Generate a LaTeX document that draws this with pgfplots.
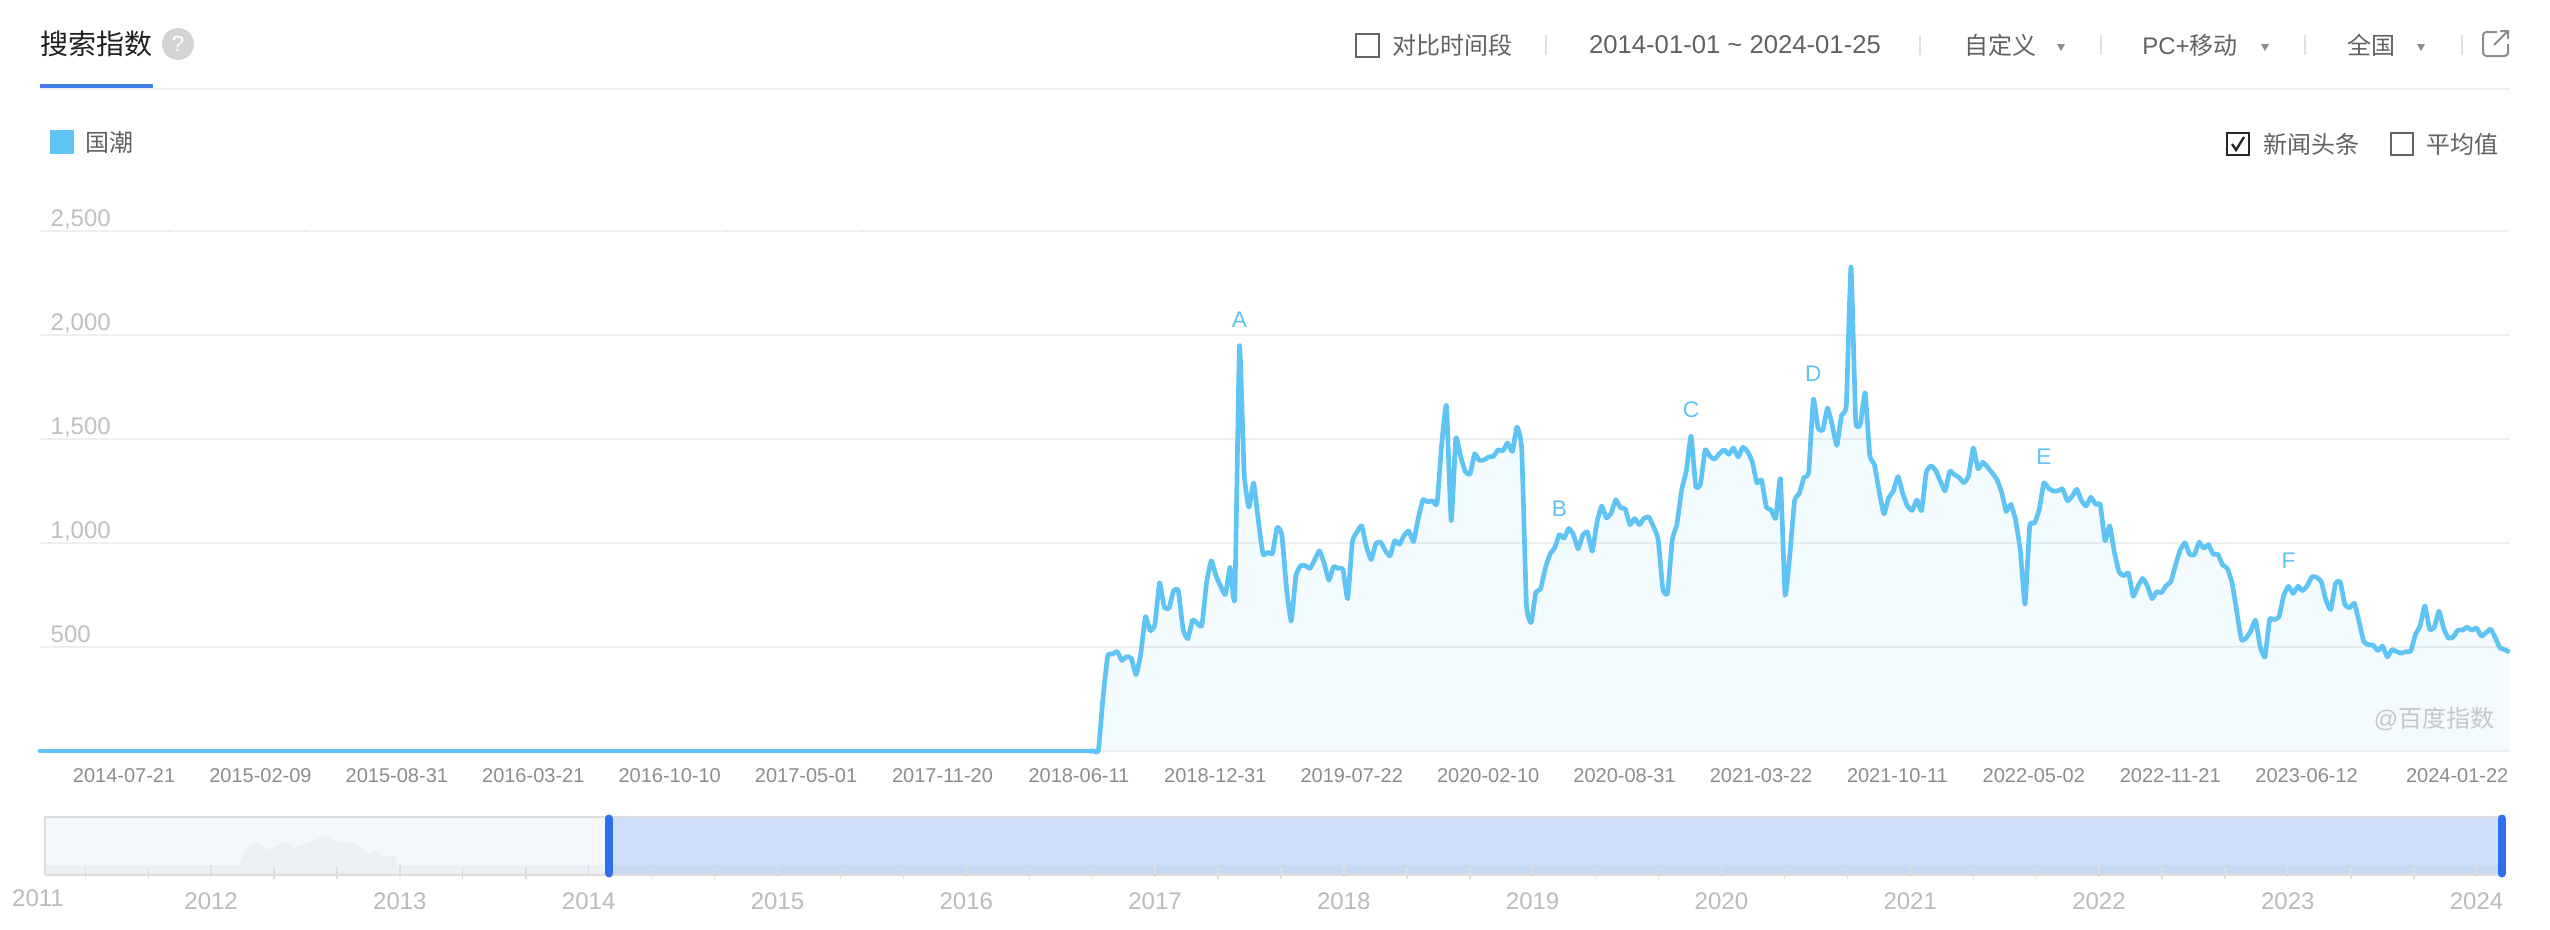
\documentclass[border=0pt]{standalone}
\usepackage{fontspec}
\usepackage{pgfplots}
\usepackage{pgfplotstable}
\pgfplotsset{compat=1.18}
\setmainfont{Liberation Sans}
\newfontfamily\cjk{Noto Sans CJK SC}
\newcommand{\fs}[1]{\fontsize{#1}{#1}\selectfont}

\definecolor{series}{HTML}{5FC4F3}
\definecolor{gridc}{HTML}{EFEFEF}
\definecolor{blueh}{HTML}{2F6FEB}
\definecolor{sel}{HTML}{CDDFFA}
\definecolor{unsel}{HTML}{F4F7FC}
\definecolor{frame}{HTML}{DDDDDD}

% weekly index, x = weeks since 2014-01-01 (flat at zero before week 223)
\pgfplotstableread{
week value
223 0
224 0
225 3
226 260
227 458
228 466
229 478
230 435
231 454
232 446
233 367
234 466
235 646
236 578
237 607
238 809
239 692
240 686
241 771
242 771
243 586
244 540
245 629
246 615
247 603
248 809
249 915
250 843
251 792
252 752
253 883
254 735
255 1949
256 1332
257 1172
258 1289
259 1109
260 946
261 955
262 950
263 1075
264 1040
265 783
266 624
267 843
268 891
269 891
270 878
271 920
272 963
273 903
274 821
275 886
276 878
277 874
278 732
279 1006
280 1054
281 1083
282 980
283 920
284 998
285 1004
286 963
287 938
288 1011
289 994
290 1037
291 1058
292 1006
293 1118
294 1208
295 1198
296 1203
297 1190
298 1477
299 1661
300 1106
301 1503
302 1417
303 1344
304 1332
305 1429
306 1397
307 1400
308 1414
309 1417
310 1448
311 1443
312 1481
313 1440
314 1558
315 1452
316 706
317 617
318 763
319 778
320 878
321 946
322 977
323 1040
324 1023
325 1070
326 1040
327 972
328 1040
329 1052
330 960
331 1100
332 1178
333 1121
334 1143
335 1208
336 1169
337 1164
338 1088
339 1118
340 1088
341 1118
342 1126
343 1080
344 1018
345 778
346 758
347 1015
348 1092
349 1255
350 1349
351 1515
352 1272
353 1284
354 1448
355 1417
356 1404
357 1429
358 1448
359 1426
360 1457
361 1414
362 1460
363 1440
364 1392
365 1289
366 1303
367 1172
368 1160
369 1118
370 1309
371 749
372 946
373 1203
374 1238
375 1315
376 1340
377 1692
378 1551
379 1543
380 1649
381 1567
382 1469
383 1615
384 1663
385 2326
386 1589
387 1572
388 1723
389 1421
390 1375
391 1246
392 1140
393 1217
394 1250
395 1320
396 1238
397 1178
398 1157
399 1207
400 1155
401 1340
402 1371
403 1349
404 1297
405 1250
406 1345
407 1328
408 1315
409 1289
410 1323
411 1457
412 1357
413 1388
414 1366
415 1337
416 1306
417 1246
418 1152
419 1186
420 1109
421 963
422 706
423 1083
424 1095
425 1160
426 1289
427 1263
428 1250
429 1251
430 1260
431 1203
432 1224
433 1258
434 1203
435 1178
436 1220
437 1186
438 1184
439 1011
440 1083
441 955
442 860
443 843
444 855
445 744
446 792
447 830
448 795
449 732
450 766
451 761
452 795
453 814
454 895
455 967
456 1001
457 946
458 943
459 1004
460 975
461 992
462 946
463 946
464 895
465 878
466 809
467 672
468 535
469 543
470 578
471 629
472 500
473 452
474 632
475 632
476 646
477 749
478 792
479 758
480 792
481 771
482 795
483 838
484 835
485 812
486 723
487 680
488 806
489 814
490 703
491 689
492 710
493 624
494 526
495 511
496 509
497 483
498 504
499 452
500 487
501 478
502 470
503 478
504 480
505 560
506 603
507 698
508 586
509 595
510 672
511 590
512 543
513 547
514 581
515 581
516 595
517 581
518 591
519 552
520 569
521 586
522 543
523 495
524 487
525 475
}\indexdata

% overview strip under the chart, x in years, y in strip pixels
\pgfplotstableread{
year h
2011.12 10
2012.15 10
2012.18 25
2012.24 33
2012.30 25
2012.39 33
2012.44 27
2012.52 33
2012.60 39
2012.69 32
2012.76 32
2012.84 20
2012.87 25
2012.91 18
2012.97 20
2012.99 10
2024.14 10
}\overview

\begin{document}
\begin{tikzpicture}[x=0.3pt,y=-0.3pt]
\useasboundingbox (0,0) rectangle (2550,930);

% main chart
\begin{axis}[
	at={(12pt,-225.3pt)},
	anchor=south west,
	scale only axis,
	width=741pt,
	height=156pt,
	xmin=0, xmax=525.1,
	ymin=0, ymax=2500,
	clip=false,
	axis line style={draw=none},
	ytick={0,500,1000,1500,2000,2500},
	yticklabels={,500,{1,000},{1,500},{2,000},{2,500}},
	ymajorgrids=true,
	grid style={gridc,line width=0.6pt},
	ytick style={draw=none},
	xtick={28.71,57.71,86.71,115.71,144.71,173.71,202.71,231.71,260.71,289.71,318.71,347.71,376.71,405.71,434.71,463.71,492.71,524.71},
	xticklabels={2014-07-21,2015-02-09,2015-08-31,2016-03-21,2016-10-10,2017-05-01,2017-11-20,2018-06-11,2018-12-31,2019-07-22,2020-02-10,2020-08-31,2021-03-22,2021-10-11,2022-05-02,2022-11-21,2023-06-12,2024-01-22},
	xtick style={white,line width=0.6pt},
	tick align=inside,
	major tick length=1pt,
	/pgf/number format/assume math mode=true,
	xticklabel style={font=\fs{6}, text=black!45, xshift=-15.3pt, yshift=-1.8pt},
	yticklabel style={font=\fs{7.2}, text=black!25, anchor=base west, inner sep=0pt, xshift=3pt, yshift=1.4pt},
	]
	\addplot[draw=none, fill=series, fill opacity=0.075, smooth, tension=0.25, forget plot] table[x=week,y=value] {\indexdata} \closedcycle;
	\addplot[series, line width=1.4pt, line cap=round, forget plot] coordinates {(0,0)(224,0)};
	\addplot[series, line width=1.4pt, line join=round, smooth, tension=0.25] table[x=week,y=value] {\indexdata};

	\node[text=series, font=\fs{6.8}] at (axis cs:255,2074) {A};
	\node[text=series, font=\fs{6.8}] at (axis cs:323,1165) {B};
	\node[text=series, font=\fs{6.8}] at (axis cs:351,1642) {C};
	\node[text=series, font=\fs{6.8}] at (axis cs:377,1813) {D};
	\node[text=series, font=\fs{6.8}] at (axis cs:426,1414) {E};
	\node[text=series, font=\fs{6.8}] at (axis cs:478,917) {F};
\end{axis}

% overview strip
\begin{axis}[
	at={(13.5pt,-262.5pt)},
	anchor=south west,
	scale only axis,
	width=737.7pt,
	height=17.4pt,
	xmin=2011.12, xmax=2024.144,
	ymin=0, ymax=58,
	axis on top,
	x axis line style={frame,line width=0.8pt},
	y axis line style={draw=none},
	ytick=\empty,
	xtick={2012,...,2024},
	xticklabels={2012,2013,2014,2015,2016,2017,2018,2019,2020,2021,2022,2023,2024},
	minor xtick={2011.333,2011.667,2012.333,2012.667,2013.333,2013.667,2014.333,2014.667,2015.333,2015.667,2016.333,2016.667,2017.333,2017.667,2018.333,2018.667,2019.333,2019.667,2020.333,2020.667,2021.333,2021.667,2022.333,2022.667,2023.333,2023.667},
	tick align=inside,
	major tick length=3.6pt,
	minor tick length=3.6pt,
	xtick style={frame,line width=0.4pt,yshift=-0.6pt},
	minor x tick style={frame,line width=0.4pt,yshift=-0.6pt},
	axis x line*=bottom,
	/pgf/number format/assume math mode=true,
	xticklabel style={font=\fs{7.2}, text=black!27, yshift=-1.9pt},
	clip=false,
	]
	\addplot[draw=none, fill=unsel] coordinates {(2011.12,0)(2011.12,58)(2014.106,58)(2014.106,0)} -- cycle;
	\addplot[draw=none, fill=sel] coordinates {(2014.106,0)(2014.106,58)(2024.133,58)(2024.133,0)} -- cycle;
	\addplot[draw=none, fill=black, fill opacity=0.03] table[x=year,y=h] {\overview} \closedcycle;
	\addplot[frame, line width=0.8pt] coordinates {(2011.12,0)(2011.12,58)(2024.13,58)};
\end{axis}

% slider handles, above the strip's bottom edge
\begin{axis}[
	at={(13.5pt,-262.5pt)},
	anchor=south west,
	scale only axis,
	width=737.7pt,
	height=17.4pt,
	xmin=2011.12, xmax=2024.144,
	ymin=0, ymax=58,
	hide axis,
	clip=false,
	]
	\addplot[blueh, line width=2.4pt, line cap=round] coordinates {(2014.106,1.5)(2014.106,56.5)};
	\addplot[blueh, line width=2.4pt, line cap=round] coordinates {(2024.133,1.5)(2024.133,56.5)};
\end{axis}

\node[text=black!27, font=\fs{7.2}] at (38,898) {2011};

% header
\node[anchor=west, inner sep=0pt, text=black!88, font=\fs{8.4}\cjk] at (40,44) {搜索指数};
\fill[black!17] (178,44) circle (16);
\node[text=white, font=\fs{6.6}] at (178,44) {?};
\fill[gridc] (40,88) rectangle (2510,90);
\fill[blueh!90!white] (40,84) rectangle (153,88);

\fill[series] (50,130) rectangle (74,154);
\node[anchor=west, inner sep=0pt, text=black!62, font=\fs{7.2}\cjk] at (85,142) {国潮};

\draw[black!60, line width=0.65pt] (1356,34) rectangle (1379,57);
\node[text=black!62, font=\fs{7.2}\cjk] at (1452,45) {对比时间段};
\node[text=black!62, font=\fs{7.7}] at (1735,45) {2014-01-01 \char`\~{} 2024-01-25};
\node[text=black!62, font=\fs{7.2}\cjk] at (2000,45) {自定义};
\node[text=black!62, font=\fs{7.2}] at (2190,45) {PC+{\cjk 移动}};
\node[text=black!62, font=\fs{7.2}\cjk] at (2371,45) {全国};
\foreach \x in {1546,1920,2101,2305,2462}
	\draw[black!12, line width=0.4pt] (\x,35) -- (\x,55);
\foreach \x in {2061,2265,2421}
	\fill[black!45] (\x-4,44) -- (\x+4,44) -- (\x,51) -- cycle;
% open-in-new icon
\draw[black!45, line width=0.6pt, rounded corners=1pt] (2497,32) -- (2483,32) -- (2483,56) -- (2508,56) -- (2508,44);
\draw[black!45, line width=0.6pt] (2494,45) -- (2508,31) (2500,31) -- (2508,31) -- (2508,39);

% toggles on the right
\draw[black!85, line width=0.65pt] (2227,133) rectangle (2249,155);
\draw[black!85, line width=0.7pt] (2232,144) -- (2236,150) -- (2244,137);
\node[text=black!62, font=\fs{7.2}\cjk] at (2311,144) {新闻头条};
\draw[black!60, line width=0.65pt] (2391,133) rectangle (2413,155);
\node[text=black!62, font=\fs{7.2}\cjk] at (2462,144) {平均值};

% watermark
\node[text=black!22, font=\fs{7.2}] at (2434,719) {@{\cjk 百度指数}};
\end{tikzpicture}
\end{document}
